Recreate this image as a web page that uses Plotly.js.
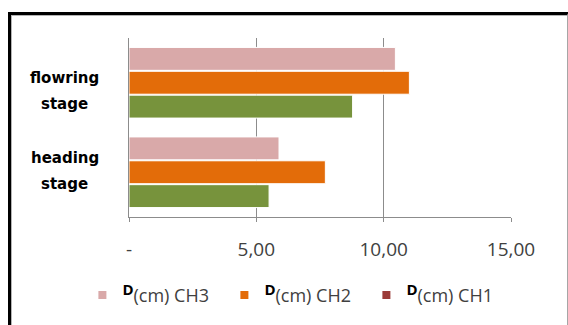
<!DOCTYPE html>
<html>
<head>
<meta charset="utf-8">
<script src="https://cdn.plot.ly/plotly-3.0.1.min.js"></script>
<style>
  html, body { margin: 0; padding: 0; background: #fff; }
  #wrap { position: relative; width: 568px; height: 325px; overflow: hidden; }
  #frame {
    position: absolute; left: 8px; top: 12px; width: 556px; height: 340px;
    border-left: 3px solid #000; border-top: 3px solid #000; border-right: 2px solid #a6a6a6;
  }
  #frame-inner {
    position: absolute; left: 0; top: 0; right: 0; bottom: 0;
    border-left: 1px solid #b4b4b4; border-top: 1px solid #b4b4b4;
  }
  #chart { position: absolute; left: 0; top: 0; width: 568px; height: 325px; }
</style>
</head>
<body>
<div id="wrap">
  <div id="frame"><div id="frame-inner"></div></div>
  <div id="chart"></div>
</div>
<script>
// Growth stages (bottom to top on the vertical axis)
const stages = ["heading stage", "flowring stage"];

// Diameter D (cm) per hybrid
const ch1 = [5.50, 8.78];
const ch2 = [7.71, 11.01];
const ch3 = [5.89, 10.46];

// Value axis ticks
const tickValues = [0, 5, 10, 15];
const tickLabels = ["-", "5,00", "10,00", "15,00"];

// Legend entries
const seriesNames = ["(cm) CH3", "(cm) CH2", "(cm) CH1"];
const legendColors = ["#d9a9a9", "#e36c09", "#9b3b38"];

const barColors = { ch1: "#77933c", ch2: "#e36c09", ch3: "#d9a9a9" };

function barTrace(values, color) {
  return {
    type: "bar",
    orientation: "h",
    y: stages,
    x: values,
    marker: { color: color, line: { color: "#ffffff", width: 1 } },
    showlegend: false,
    hoverinfo: "x"
  };
}

const traces = [
  barTrace(ch1, barColors.ch1),
  barTrace(ch2, barColors.ch2),
  barTrace(ch3, barColors.ch3)
];

// Legend-only entries with square markers
seriesNames.forEach((name, i) => {
  traces.push({
    type: "scatter",
    mode: "markers",
    x: [null],
    y: [null],
    name: '<sup><span style="font-size:15px;color:#000"><b>D</b></span></sup>' + name,
    marker: { symbol: "square", size: 8, color: legendColors[i] },
    showlegend: true,
    hoverinfo: "skip"
  });
});

// Two-line stage labels on the left; vertical offsets (px) of each line per stage
const labelShifts = [[14, -12], [5, -21]];
const annotations = [];
stages.forEach((s, i) => {
  const words = s.split(" ");
  words.forEach((w, j) => {
    annotations.push({
      xref: "paper", yref: "y",
      x: -0.168, y: s,
      text: w,
      showarrow: false,
      xanchor: "center", yanchor: "middle",
      yshift: labelShifts[i][j],
      font: { family: "DejaVu Sans", size: 15, color: "#000", weight: "bold" }
    });
  });
});

const layout = {
  width: 568,
  height: 325,
  margin: { l: 129, r: 57, t: 38, b: 107 },
  paper_bgcolor: "rgba(0,0,0,0)",
  plot_bgcolor: "rgba(0,0,0,0)",
  barmode: "group",
  bargap: 0.2,
  bargroupgap: 0.04,
  xaxis: {
    range: [0, 15],
    tickvals: tickValues,
    ticktext: tickLabels,
    showgrid: true,
    gridcolor: "#8c8c8c",
    gridwidth: 1,
    zeroline: false,
    showline: true,
    linecolor: "#8c8c8c",
    linewidth: 1,
    ticks: "outside",
    ticklen: 4,
    tickcolor: "#8c8c8c",
    ticklabelstandoff: 11,
    tickfont: { family: "Open Sans", size: 19, color: "#404040" }
  },
  yaxis: {
    type: "category",
    showgrid: false,
    zeroline: false,
    showline: true,
    linecolor: "#8c8c8c",
    linewidth: 1.5,
    ticks: "",
    showticklabels: false
  },
  legend: {
    orientation: "h",
    x: -0.122, xanchor: "left",
    y: -0.43, yanchor: "middle",
    entrywidth: 97, entrywidthmode: "pixels",
    itemwidth: 30,
    tracegroupgap: 0,
    bgcolor: "rgba(0,0,0,0)",
    font: { family: "Open Sans", size: 18, color: "#404040" }
  },
  annotations: annotations,
  showlegend: true
};

Plotly.newPlot("chart", traces, layout, { displayModeBar: false, staticPlot: true });
</script>
</body>
</html>
